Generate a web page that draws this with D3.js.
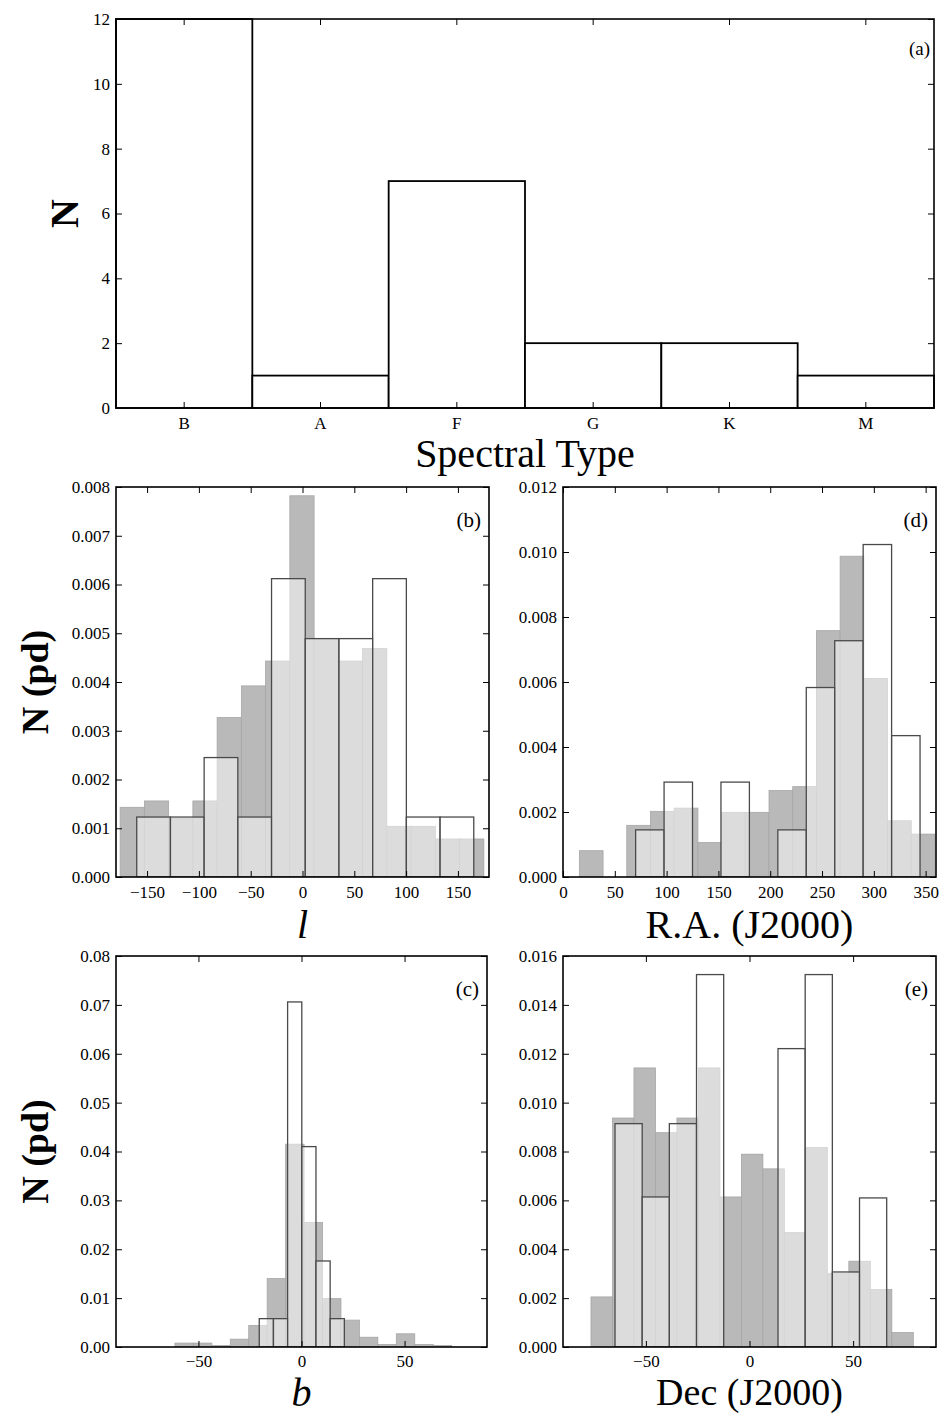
<!DOCTYPE html>
<html>
<head>
<meta charset="utf-8">
<script src="https://cdn.jsdelivr.net/npm/d3@7"></script>
<style>
  html, body { margin: 0; padding: 0; background: #fff; }
  svg { display: block; }
  text { font-family: "Liberation Serif", "DejaVu Serif", serif; fill: #000; }
</style>
</head>
<body>
<svg id="chart" width="942" height="1414"></svg>
<script>
// ---------------- DATA ----------------
// (a) spectral types
const specCats = ["B", "A", "F", "G", "K", "M"];
const specCounts = [12, 1, 7, 2, 2, 1];
const specTicks = [0, 2, 4, 6, 8, 10, 12];

// (b) galactic longitude l  (probability density)
const lGrayStart = -176.0, lGrayWidth = 23.4;
const lGray = [0.00143, 0.00156, 0.00120, 0.00156, 0.00327, 0.00392, 0.00443, 0.00782,
               0.00489, 0.00443, 0.00469, 0.00104, 0.00104, 0.00078, 0.00078];
const lOpenStart = -160.0, lOpenWidth = 32.53;
const lOpen = [0.00123, 0.00123, 0.00245, 0.00123, 0.00612, 0.00489, 0.00489, 0.00612, 0.00123, 0.00123];
const lXTicks = [-150, -100, -50, 0, 50, 100, 150];
const lYTicks = [0, 0.001, 0.002, 0.003, 0.004, 0.005, 0.006, 0.007, 0.008];

// (d) right ascension
const raGrayStart = 15.8, raGrayWidth = 22.88;
const raGray = [0.00081, 0, 0.00159, 0.00202, 0.00212, 0.00106, 0.00199, 0.00199,
                0.00266, 0.00278, 0.00758, 0.00987, 0.00611, 0.00173, 0.00132];
const raOpenStart = 70.1, raOpenWidth = 27.45;
const raOpen = [0.00145, 0.00292, 0, 0.00292, 0, 0.00145, 0.00583, 0.00727, 0.01023, 0.00435];
const raXTicks = [0, 50, 100, 150, 200, 250, 300, 350];
const raYTicks = [0, 0.002, 0.004, 0.006, 0.008, 0.010, 0.012];

// (c) galactic latitude b
const bGrayStart = -61.4, bGrayWidth = 8.95;
const bGray = [0.0008, 0.0008, 0.0003, 0.0016, 0.0044, 0.0140, 0.0415, 0.0255,
               0.0099, 0.0055, 0.0020, 0.0005, 0.0027, 0.0005, 0.0003];
const bOpenStart = -20.5, bOpenWidth = 6.88;
const bOpen = [0.0058, 0.0058, 0.0706, 0.0410, 0.0176, 0.0058];
const bXTicks = [-50, 0, 50];
const bYTicks = [0, 0.01, 0.02, 0.03, 0.04, 0.05, 0.06, 0.07, 0.08];

// (e) declination
const decGrayStart = -76.5, decGrayWidth = 10.37;
const decGray = [0.00205, 0.00937, 0.01142, 0.00877, 0.00937, 0.01142, 0.00614, 0.00789,
                 0.00729, 0.00468, 0.00816, 0.00300, 0.00351, 0.00235, 0.00059];
const decOpenStart = -64.9, decOpenWidth = 13.11;
const decOpen = [0.00914, 0.00614, 0.00914, 0.01524, 0, 0, 0.01221, 0.01524, 0.00307, 0.00610];
const decXTicks = [-50, 0, 50];
const decYTicks = [0, 0.002, 0.004, 0.006, 0.008, 0.010, 0.012, 0.014, 0.016];

// ---------------- DRAW ----------------
const svg = d3.select("#chart");
const FONT = '"Liberation Serif", "DejaVu Serif", serif';
const minusFmt = d => (d < 0 ? "\u2212" + Math.abs(d) : String(d));
const GRAY = "#b9b9b9";

function frameAxes(g, x, y, w, h, xTicks, yTicks, xFmt, yFmt, tickFont, xPad) {
  const ax = g.append("g").attr("transform", `translate(0,${h})`)
    .call(d3.axisBottom(x).tickValues(xTicks).tickSizeInner(-6).tickSizeOuter(0).tickPadding(xPad).tickFormat(xFmt));
  const at = g.append("g")
    .call(d3.axisTop(x).tickValues(xTicks).tickSizeInner(-6).tickSizeOuter(0).tickFormat(""));
  const al = g.append("g")
    .call(d3.axisLeft(y).tickValues(yTicks).tickSizeInner(-6).tickSizeOuter(0).tickPadding(6).tickFormat(yFmt));
  const ar = g.append("g").attr("transform", `translate(${w},0)`)
    .call(d3.axisRight(y).tickValues(yTicks).tickSizeInner(-6).tickSizeOuter(0).tickFormat(""));
  [ax, at, al, ar].forEach(a => {
    a.select(".domain").remove();
    a.selectAll("line").attr("stroke", "#000").attr("stroke-width", 1);
    a.selectAll("text").style("font-family", FONT).style("font-size", tickFont + "px").attr("fill", "#000");
  });
  g.append("rect").attr("x", 0).attr("y", 0).attr("width", w).attr("height", h)
    .attr("fill", "none").attr("stroke", "#000").attr("stroke-width", 1.6);
}

function histPanel(opt) {
  const { left, top, w, h, xDom, yDom } = opt;
  const g = svg.append("g").attr("transform", `translate(${left},${top})`);
  const x = d3.scaleLinear().domain(xDom).range([0, w]);
  const y = d3.scaleLinear().domain(yDom).range([h, 0]);
  const clipId = "clip" + opt.id;
  g.append("clipPath").attr("id", clipId).append("rect").attr("width", w).attr("height", h);
  const plot = g.append("g").attr("clip-path", `url(#${clipId})`);

  const grayData = opt.gray.map((v, i) => ({ x0: opt.grayStart + i * opt.grayWidth, x1: opt.grayStart + (i + 1) * opt.grayWidth, v }));
  const openData = opt.open.map((v, i) => ({ x0: opt.openStart + i * opt.openWidth, x1: opt.openStart + (i + 1) * opt.openWidth, v }));

  plot.selectAll("rect.gray").data(grayData.filter(d => d.v > 0)).join("rect")
    .attr("class", "gray")
    .attr("x", d => x(d.x0)).attr("width", d => x(d.x1) - x(d.x0))
    .attr("y", d => y(d.v)).attr("height", d => y(0) - y(d.v))
    .attr("fill", GRAY).attr("stroke", "#a6a6a6").attr("stroke-width", 0.8);

  plot.selectAll("rect.open").data(openData.filter(d => d.v > 0)).join("rect")
    .attr("class", "open")
    .attr("x", d => x(d.x0)).attr("width", d => x(d.x1) - x(d.x0))
    .attr("y", d => y(d.v)).attr("height", d => y(0) - y(d.v))
    .attr("fill", "#fff").attr("fill-opacity", 0.5)
    .attr("stroke", "#4a4a4a").attr("stroke-width", 1.3);

  frameAxes(g, x, y, w, h, opt.xTicks, opt.yTicks, minusFmt, d3.format(opt.yFmt), 17, opt.xPad);

  g.append("text").attr("x", w - 8).attr("y", 40).attr("text-anchor", "end")
    .style("font-size", "21px").text(opt.tag);

  // x-label
  const xl = g.append("text").attr("x", w / 2).attr("y", h + opt.xLabelDy)
    .attr("text-anchor", "middle").style("font-size", opt.xLabelSize + "px").text(opt.xLabel);
  if (opt.italic) xl.style("font-style", "italic");

  if (opt.yLabel) {
    g.append("text")
      .attr("transform", `translate(${-left + 48},${h / 2}) rotate(-90)`)
      .attr("text-anchor", "middle").style("font-size", "38px").style("font-weight", "bold")
      .text(opt.yLabel);
  }
}

// ---- Panel (a)
(function () {
  const left = 116, top = 19, w = 818, h = 389;
  const g = svg.append("g").attr("transform", `translate(${left},${top})`);
  const x = d3.scaleBand().domain(specCats).range([0, w]).paddingInner(0).paddingOuter(0);
  const y = d3.scaleLinear().domain([0, 12]).range([h, 0]);
  g.selectAll("rect.bar").data(specCats.map((c, i) => ({ c, v: specCounts[i] }))).join("rect")
    .attr("class", "bar")
    .attr("x", d => x(d.c)).attr("width", x.bandwidth())
    .attr("y", d => y(d.v)).attr("height", d => y(0) - y(d.v))
    .attr("fill", "#fff").attr("stroke", "#000").attr("stroke-width", 1.8);
  frameAxes(g, x, y, w, h, specCats, specTicks, d => d, d => d, 17, 9);
  g.append("text").attr("x", w - 4).attr("y", 36).attr("text-anchor", "end")
    .style("font-size", "19px").text("(a)");
  g.append("text").attr("x", w / 2).attr("y", h + 59).attr("text-anchor", "middle")
    .style("font-size", "40px").text("Spectral Type");
  g.append("text").attr("transform", `translate(${-left + 78},${h / 2}) rotate(-90)`)
    .attr("text-anchor", "middle").style("font-size", "40px").style("font-weight", "bold").text("N");
})();

histPanel({ id: "b", left: 116, top: 487, w: 373, h: 390, xDom: [-180, 180], yDom: [0, 0.008], yFmt: ".3f",
  gray: lGray, grayStart: lGrayStart, grayWidth: lGrayWidth,
  open: lOpen, openStart: lOpenStart, openWidth: lOpenWidth, xPad: 9,
  xTicks: lXTicks, yTicks: lYTicks, tag: "(b)", xLabel: "l", italic: true, xLabelDy: 61, xLabelSize: 40, yLabel: "N (pd)" });

histPanel({ id: "d", left: 563, top: 487, w: 373, h: 390, xDom: [0, 360], yDom: [0, 0.012], yFmt: ".3f",
  gray: raGray, grayStart: raGrayStart, grayWidth: raGrayWidth,
  open: raOpen, openStart: raOpenStart, openWidth: raOpenWidth, xPad: 9,
  xTicks: raXTicks, yTicks: raYTicks, tag: "(d)", xLabel: "R.A. (J2000)", italic: false, xLabelDy: 61, xLabelSize: 40 });

histPanel({ id: "c", left: 116, top: 956, w: 371, h: 391, xDom: [-90, 90], yDom: [0, 0.08], yFmt: ".2f",
  gray: bGray, grayStart: bGrayStart, grayWidth: bGrayWidth,
  open: bOpen, openStart: bOpenStart, openWidth: bOpenWidth, xPad: 8,
  xTicks: bXTicks, yTicks: bYTicks, tag: "(c)", xLabel: "b", italic: true, xLabelDy: 59, xLabelSize: 40, yLabel: "N (pd)" });

histPanel({ id: "e", left: 563, top: 956, w: 373, h: 391, xDom: [-90, 90], yDom: [0, 0.016], yFmt: ".3f",
  gray: decGray, grayStart: decGrayStart, grayWidth: decGrayWidth,
  open: decOpen, openStart: decOpenStart, openWidth: decOpenWidth, xPad: 8,
  xTicks: decXTicks, yTicks: decYTicks, tag: "(e)", xLabel: "Dec (J2000)", italic: false, xLabelDy: 58, xLabelSize: 38 });
</script>
</body>
</html>
